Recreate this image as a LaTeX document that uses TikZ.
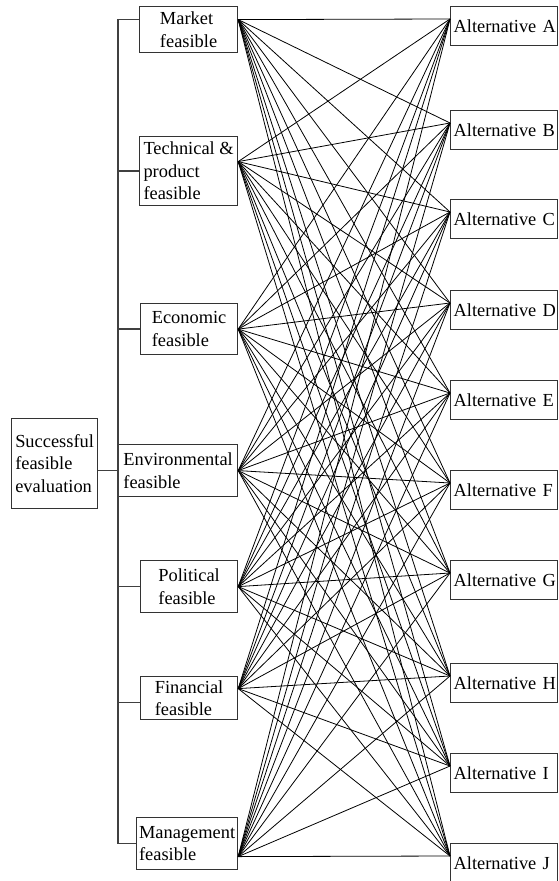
\documentclass[tikz,border=0pt]{standalone}
\usepackage{fontspec}
\setmainfont{Liberation Serif}
\begin{document}
\begin{tikzpicture}[x=0.5pt,y=-0.5pt,
  box/.style={draw=black!80,line width=0.6pt,inner sep=0pt,align=left,anchor=north west,
    font=\fontsize{9.2}{11.3}\selectfont},
  alt/.style={box,minimum height=19.5pt,text width=50.5pt,inner xsep=1.5pt},
  tree/.style={draw=black!75,line width=0.6pt},
  link/.style={line width=0.4pt}]
\useasboundingbox (0,0) rectangle (558,881);
\node[box,minimum width=43pt,minimum height=45pt] (suc) at (11,418) {Successful\\feasible\\evaluation};
\node[box,minimum width=49pt,minimum height=23pt] (mkt) at (139,6) {Market\\feasible};
\node[box,minimum width=49pt,minimum height=34.5pt] (tec) at (139,136) {Technical \&\\product\\feasible};
\node[box,minimum width=48.5pt,minimum height=25.5pt] (eco) at (140,303) {Economic\\feasible};
\node[box,minimum width=59.5pt,minimum height=26pt] (env) at (118,444) {Environmental\\feasible};
\node[box,minimum width=48.5pt,minimum height=26pt] (pol) at (140,560) {Political\\feasible};
\node[box,minimum width=48.5pt,minimum height=21.5pt] (fin) at (140,676) {Financial\\feasible};
\node[box,minimum width=50.5pt,minimum height=26pt] (mgt) at (136,817) {Management\\feasible};
\foreach \l/\y in {A/6,B/110,C/199,D/290,E/380,F/470,G/560,H/663,I/753,J/843}{
  \node[alt] (alt\l) at (450,\y) {\mbox{Alternative \l}};
  \coordinate (in\l) at ([yshift=-6.5pt]alt\l.north west);
}
\draw[tree] ([yshift=5pt]mkt.west) -| (env.west |- mgt.west) -- (mgt.west);
\foreach \n/\s in {tec/0,eco/0,pol/0,fin/-2.25}
  \draw[tree] ([yshift=\s pt]\n.west) -- ([yshift=\s pt]\n.west -| env.west);
\draw[tree] (suc.east |- env.west) -- (env.west);
\foreach \n/\s in {mkt/5,tec/4.75,eco/0,env/0,pol/0,fin/4.75,mgt/-6.5}{
  \coordinate (\n-o) at ([yshift=\s pt]\n.east);
  \foreach \l in {A,B,C,D,E,F,G,H,I,J}
    \draw[link] (\n-o) -- (in\l);
}
\end{tikzpicture}
\end{document}
